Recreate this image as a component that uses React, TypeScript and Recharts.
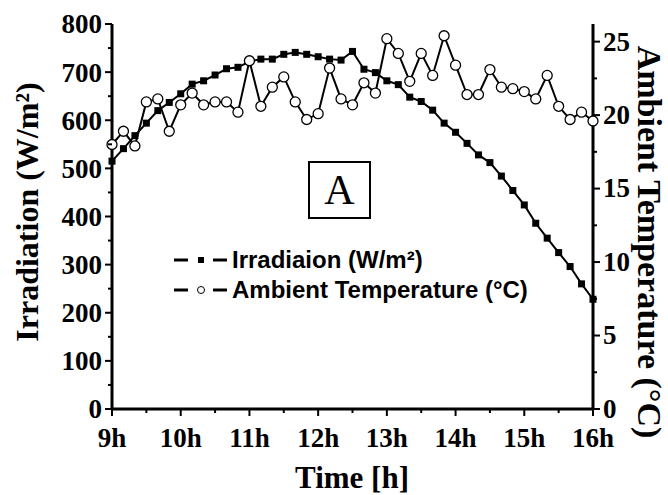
import React from "react";
import { Line, LineChart, XAxis, YAxis } from "recharts";

const times = [
  "9:00", "9:10", "9:20", "9:30", "9:40", "9:50",
  "10:00", "10:10", "10:20", "10:30", "10:40", "10:50",
  "11:00", "11:10", "11:20", "11:30", "11:40", "11:50",
  "12:00", "12:10", "12:20", "12:30", "12:40", "12:50",
  "13:00", "13:10", "13:20", "13:30", "13:40", "13:50",
  "14:00", "14:10", "14:20", "14:30", "14:40", "14:50",
  "15:00", "15:10", "15:20", "15:30", "15:40", "15:50",
  "16:00",
];

const irradiation = [
  515, 541, 568, 594, 620, 637,
  655, 675, 682, 694, 707, 710,
  722, 727, 727, 737, 741, 737,
  732, 727, 725, 743, 706, 699,
  682, 674, 648, 639, 621, 594,
  575, 552, 528, 512, 484, 454,
  424, 386, 355, 325, 296, 260,
  228,
];

const temperature = [
  18.0, 18.9, 17.9, 20.9, 21.1, 18.9,
  20.7, 21.5, 20.7, 20.9, 20.9, 20.2,
  23.7, 20.6, 21.9, 22.6, 20.9, 19.7,
  20.1, 23.2, 21.1, 20.7, 22.2, 21.5,
  25.2, 24.2, 22.3, 24.2, 22.7, 25.4,
  23.4, 21.4, 21.4, 23.1, 21.9, 21.8,
  21.6, 21.1, 22.7, 20.6, 19.7, 20.2,
  19.6,
];

const hourTicks = [9, 9.5, 10, 10.5, 11, 11.5, 12, 12.5, 13, 13.5, 14, 14.5, 15, 15.5, 16];
const irrTicks = [0, 50, 100, 150, 200, 250, 300, 350, 400, 450, 500, 550, 600, 650, 700, 750, 800];
const tempTicks = [0, 2.5, 5, 7.5, 10, 12.5, 15, 17.5, 20, 22.5, 25];

const IRR_NAME = "Irradiaion (W/m²)";
const TEMP_NAME = "Ambient Temperature (°C)";

const data = times.map((t, i) => {
  const [h, m] = t.split(":").map(Number);
  return { hour: h + m / 60, irr: irradiation[i], temp: temperature[i] };
});

const SERIF = '"Liberation Serif", "Times New Roman", serif';
const SANS = '"Liberation Sans", Arial, sans-serif';
const TICK_FONT = 27;

function BottomTick({ x, y, payload }: any) {
  const major = Number.isInteger(payload.value);
  return (
    <g>
      <line x1={x} x2={x} y1={y} y2={y + (major ? 7 : 4)} stroke="#000" strokeWidth={2} />
      {major && (
        <text x={x} y={y + 38} textAnchor="middle" fontFamily={SERIF} fontWeight="bold" fontSize={TICK_FONT} fill="#000">
          {payload.value}h
        </text>
      )}
    </g>
  );
}

function TopTick({ x, y, payload }: any) {
  const major = Number.isInteger(payload.value);
  return <line x1={x} x2={x} y1={y} y2={y + (major ? 5 : 3)} stroke="#000" strokeWidth={2} />;
}

function LeftTick({ x, y, payload }: any) {
  const major = payload.value % 100 === 0;
  return (
    <g>
      <line x1={x} x2={x - (major ? 7 : 4)} y1={y} y2={y} stroke="#000" strokeWidth={2} />
      {major && (
        <text x={x - 10} y={y} dy="0.35em" textAnchor="end" fontFamily={SERIF} fontWeight="bold" fontSize={TICK_FONT} fill="#000">
          {payload.value}
        </text>
      )}
    </g>
  );
}

function RightTick({ x, y, payload }: any) {
  const major = payload.value % 5 === 0;
  return (
    <g>
      <line x1={x} x2={x + (major ? 7 : 4)} y1={y} y2={y} stroke="#000" strokeWidth={2} />
      {major && (
        <text x={x + 10} y={y} dy="0.33em" textAnchor="start" fontFamily={SERIF} fontWeight="bold" fontSize={TICK_FONT} fill="#000">
          {payload.value}
        </text>
      )}
    </g>
  );
}

function SquareDot({ cx, cy }: any) {
  if (cx == null || cy == null) return null;
  return <rect x={cx - 3.5} y={cy - 3.5} width={7} height={7} fill="#000" />;
}

function CircleDot({ cx, cy }: any) {
  if (cx == null || cy == null) return null;
  return <circle cx={cx} cy={cy} r={5} fill="#fff" stroke="#000" strokeWidth={1.3} />;
}

function LegendRow({ kind, label }: { kind: "square" | "circle"; label: string }) {
  return (
    <div style={{ display: "flex", alignItems: "center", height: 30 }}>
      <svg width={58} height={30}>
        <line x1={0} x2={14} y1={15} y2={15} stroke="#000" strokeWidth={3} />
        <line x1={39} x2={53} y1={15} y2={15} stroke="#000" strokeWidth={3} />
        {kind === "square" ? (
          <rect x={24} y={12} width={6} height={6} fill="#000" />
        ) : (
          <circle cx={27} cy={15} r={3.5} fill="#fff" stroke="#000" strokeWidth={1} />
        )}
      </svg>
      <span style={{ whiteSpace: "nowrap" }}>{label}</span>
    </div>
  );
}

export default function App() {
  return (
    <div style={{ position: "absolute", left: 0, top: 0, width: 668, height: 495, background: "#fff" }}>
      <LineChart width={668} height={495} data={data} margin={{ top: 24, right: 15, bottom: 36, left: 22 }}>
        <XAxis
          dataKey="hour"
          type="number"
          domain={[9, 16]}
          ticks={hourTicks}
          interval={0}
          height={50}
          tickSize={0}
          tickMargin={0}
          axisLine={{ stroke: "#000", strokeWidth: 3 }}
          tick={<BottomTick />}
        />
        <XAxis
          xAxisId="top"
          orientation="top"
          dataKey="hour"
          type="number"
          domain={[9, 16]}
          ticks={hourTicks}
          interval={0}
          height={0}
          tickSize={0}
          tickMargin={0}
          axisLine={{ stroke: "#000", strokeWidth: 3 }}
          tick={<TopTick />}
        />
        <YAxis
          yAxisId="left"
          domain={[0, 800]}
          ticks={irrTicks}
          interval={0}
          width={90}
          tickSize={0}
          tickMargin={0}
          axisLine={{ stroke: "#000", strokeWidth: 3 }}
          tick={<LeftTick />}
        />
        <YAxis
          yAxisId="right"
          orientation="right"
          domain={[0, 26.2]}
          ticks={tempTicks}
          interval={0}
          width={60}
          tickSize={0}
          tickMargin={0}
          axisLine={{ stroke: "#000", strokeWidth: 3 }}
          tick={<RightTick />}
        />
        <Line
          yAxisId="left"
          dataKey="irr"
          name={IRR_NAME}
          stroke="#000"
          strokeWidth={2}
          dot={<SquareDot />}
          activeDot={false}
          isAnimationActive={false}
        />
        <Line
          yAxisId="right"
          dataKey="temp"
          name={TEMP_NAME}
          stroke="#000"
          strokeWidth={2}
          dot={<CircleDot />}
          activeDot={false}
          isAnimationActive={false}
        />
      </LineChart>

      {/* legend */}
      <div
        style={{
          position: "absolute",
          left: 174,
          top: 245,
          fontFamily: SANS,
          fontWeight: "bold",
          fontSize: 24,
          color: "#000",
        }}
      >
        <LegendRow kind="square" label={IRR_NAME} />
        <LegendRow kind="circle" label={TEMP_NAME} />
      </div>

      <div
        style={{
          position: "absolute",
          left: 308,
          top: 161,
          width: 59,
          height: 54,
          border: "2px solid #000",
          fontFamily: SERIF,
          fontSize: 42,
          lineHeight: "54px",
          textAlign: "center",
          color: "#000",
        }}
      >
        A
      </div>

      <div
        style={{
          position: "absolute",
          left: 27,
          top: 212,
          transform: "translate(-50%, -50%) rotate(-90deg)",
          fontFamily: SERIF,
          fontWeight: "bold",
          fontSize: 32,
          lineHeight: "34px",
          whiteSpace: "nowrap",
          color: "#000",
        }}
      >
        Irradiation (W/m²)
      </div>

      <div
        style={{
          position: "absolute",
          left: 649,
          top: 242,
          transform: "translate(-50%, -50%) rotate(90deg)",
          fontFamily: SERIF,
          fontWeight: "bold",
          fontSize: 34,
          lineHeight: "34px",
          whiteSpace: "nowrap",
          color: "#000",
        }}
      >
        Ambient Temperature (°C)
      </div>

      <div
        style={{
          position: "absolute",
          left: 352,
          top: 478,
          transform: "translate(-50%, -50%)",
          fontFamily: SERIF,
          fontWeight: "bold",
          fontSize: 31,
          whiteSpace: "nowrap",
          color: "#000",
        }}
      >
        Time [h]
      </div>
    </div>
  );
}
